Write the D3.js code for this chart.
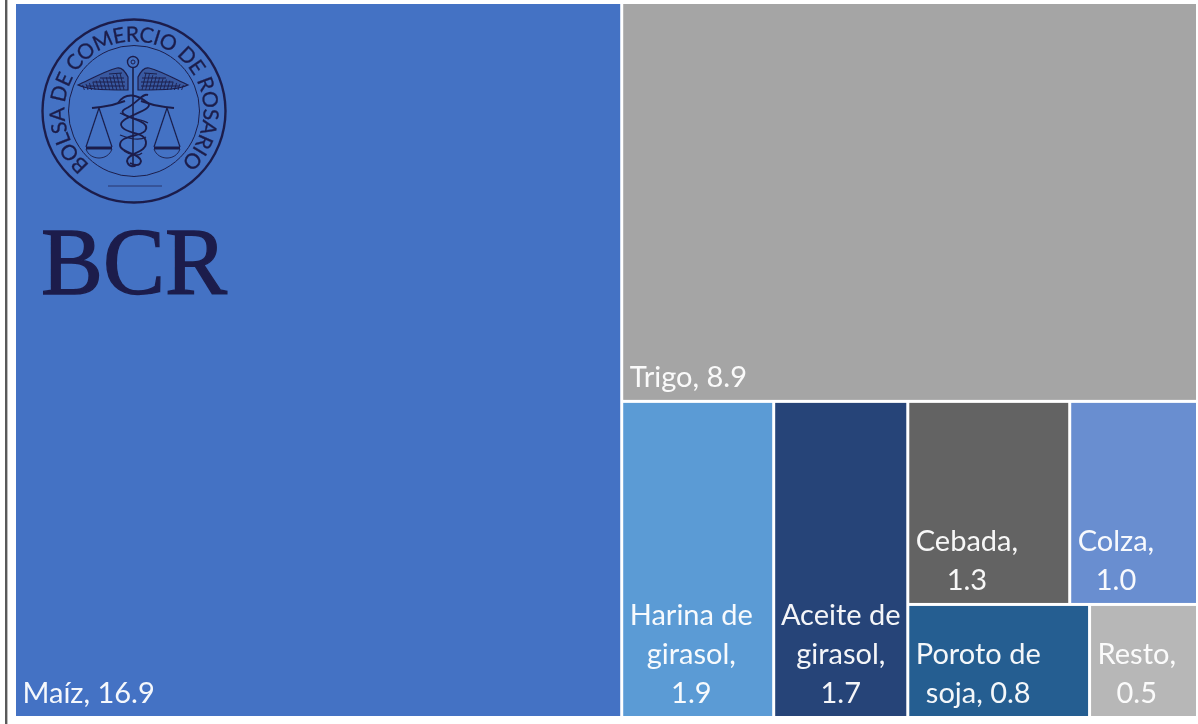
<!DOCTYPE html>
<html>
<head>
<meta charset="utf-8">
<script src="https://cdn.jsdelivr.net/npm/d3@7"></script>
<style>
  html, body { margin: 0; padding: 0; background: #fff; }
  svg { display: block; }
  text { font-family: Lato, "Open Sans", sans-serif; }
</style>
</head>
<body>
<div id="canvas"></div>
<script>
const categories = ["Maíz", "Trigo", "Harina de girasol", "Aceite de girasol", "Cebada", "Colza", "Poroto de soja", "Resto"];
// values, they round to the printed labels
const values = [16.9, 8.94, 1.87, 1.65, 1.28, 1.01, 0.8, 0.475];
const colors = ["#4472c4", "#a5a5a5", "#5b9bd5", "#264478", "#636363", "#698ed0", "#255e91", "#b7b7b7"];
const labelLines = [
  ["Maíz, 16.9"],
  ["Trigo, 8.9"],
  ["Harina de", "girasol,", "1.9"],
  ["Aceite de", "girasol,", "1.7"],
  ["Cebada,", "1.3"],
  ["Colza,", "1.0"],
  ["Poroto de", "soja, 0.8"],
  ["Resto,", "0.5"]
];
const logoName = "BOLSA DE COMERCIO DE ROSARIO";
const logoShort = "BCR";

const width = 1198;
const height = 724;
const margin = { top: 4, left: 16, bottom: 8, right: 2 };
const iwidth = width - margin.left - margin.right;
const iheight = height - margin.top - margin.bottom;
const navy = "#1c1f4c";

const leaf = i => ({ name: categories[i], value: values[i], color: colors[i], lines: labelLines[i] });

// same nesting the spreadsheet treemap ends up with
const tree = {
  children: [
    leaf(0),
    { children: [
      leaf(1),
      { children: [
        leaf(2),
        leaf(3),
        { children: [
          { children: [leaf(4), leaf(5)] },
          { children: [leaf(6), leaf(7)] }
        ] }
      ] }
    ] }
  ]
};

const root = d3.hierarchy(tree).sum(d => d.value || 0);

d3.treemap()
  .size([iwidth, iheight])
  .paddingInner(3)
  .tile((node, x0, y0, x1, y1) => {
    if (node.depth % 2 === 0) d3.treemapDice(node, x0, y0, x1, y1);
    else d3.treemapSlice(node, x0, y0, x1, y1);
  })(root);

const svg = d3.select("#canvas").append("svg")
  .attr("width", width)
  .attr("height", height);

// the reference is a soft screenshot
const defs = svg.append("defs");
defs.append("filter").attr("id", "soft")
  .attr("x", "-5%").attr("y", "-5%").attr("width", "110%").attr("height", "110%")
  .append("feGaussianBlur").attr("stdDeviation", 0.55);

// picture frame on the left
svg.append("rect")
  .attr("x", 5).attr("y", 0)
  .attr("width", 2.4).attr("height", height)
  .attr("fill", "#5a5a5a");

const g = svg.append("g").attr("transform", `translate(${margin.left},${margin.top})`);

const cell = g.selectAll("g.cell")
  .data(root.leaves())
  .enter().append("g")
  .attr("class", "cell");

cell.append("rect")
  .attr("x", d => d.x0)
  .attr("y", d => d.y0)
  .attr("width", d => d.x1 - d.x0)
  .attr("height", d => d.y1 - d.y0)
  .attr("fill", d => d.data.color);

const fontSize = 29;
const lineHeight = 39;

cell.each(function (d) {
  const lines = d.data.lines;
  const text = d3.select(this).append("text")
    .attr("fill", "#fff")
    .attr("fill-opacity", 0.95)
    .attr("font-size", fontSize)
    .attr("text-anchor", "middle")
    .attr("filter", "url(#soft)");
  const spans = text.selectAll("tspan").data(lines).enter().append("tspan").text(l => l);
  // lines are centred on the widest one, the block sits in the bottom left corner
  const widest = d3.max(spans.nodes(), n => n.getComputedTextLength());
  const left = d.x0 + Math.min(6.5, Math.max(4, (d.x1 - d.x0 - widest) / 2));
  spans.attr("x", left + widest / 2)
    .attr("y", (l, i) => d.y1 - 13 - (lines.length - 1 - i) * lineHeight);
});

// logo, top left of the maize cell
const logo = svg.append("g")
  .attr("transform", "translate(134,111)")
  .attr("fill", "none")
  .attr("stroke", navy)
  .attr("filter", "url(#soft)");

logo.append("circle").attr("r", 91.5).attr("stroke-width", 2.4);
logo.append("circle").attr("r", 65.5).attr("stroke-width", 1);

const ringR = 69.5;
const startA = Math.PI * 0.72;
const spanA = Math.PI * 1.54;
const arc = d3.path();
arc.arc(0, 0, ringR, startA, startA + spanA, false);
logo.append("path").attr("id", "ring").attr("d", arc.toString()).attr("stroke", "none");

logo.append("text")
  .attr("fill", navy)
  .attr("stroke", navy)
  .attr("stroke-width", 0.3)
  .attr("font-size", 21)
  .append("textPath")
  .attr("href", "#ring")
  .attr("textLength", ringR * spanA)
  .text(logoName);

logo.append("line").attr("x1", -26).attr("x2", 28).attr("y1", 75).attr("y2", 75).attr("stroke-width", 1).attr("stroke-opacity", 0.7);

// staff and knob
logo.append("line").attr("x1", -1).attr("x2", -1).attr("y1", -43).attr("y2", 56).attr("stroke-width", 1.6);
logo.append("circle").attr("cx", -1).attr("cy", -49).attr("r", 5.5).attr("stroke-width", 1.4);
logo.append("circle").attr("cx", -1).attr("cy", -49).attr("r", 2).attr("stroke-width", 1);

// one half of wing and scale, drawn twice
[1, -1].forEach(side => {
  const half = logo.append("g").attr("transform", `translate(-1,0) scale(${side},1)`);
  half.append("path").attr("stroke-width", 1.2)
    .attr("fill", navy).attr("fill-opacity", 0.3)
    .attr("d", "M5,-34 C8,-40 11,-44 16,-43 C28,-40 42,-32 55,-26 C46,-22 36,-21 5,-21 Z");
  [[8, -25, 46, -25], [8, -29, 40, -29], [9, -33, 33, -33], [11, -38, 24, -37]].forEach(f => {
    half.append("line").attr("x1", f[0]).attr("y1", f[1]).attr("x2", f[2]).attr("y2", f[3]).attr("stroke-width", 1);
  });
  for (let i = 0; i < 12; i++) {
    half.append("line")
      .attr("x1", 9 + i * 3.6).attr("y1", -21)
      .attr("x2", 13 + i * 3.4).attr("y2", -38 + i * 1.1)
      .attr("stroke-width", 0.9);
  }
  half.append("path").attr("stroke-width", 2)
    .attr("d", "M8,-10 C16,-7 24,-5 32,-4 L41,-3");
  half.append("path").attr("stroke-width", 1.2)
    .attr("d", "M34,-3 L21,36 M34,-3 L47,36");
  half.append("path").attr("stroke-width", 3).attr("d", "M21,37 L47,37");
  half.append("path").attr("stroke-width", 0.9).attr("d", "M21,38 C25,50 43,50 47,38");
});

// snakes
logo.append("path").attr("stroke-width", 1.9)
  .attr("d", "M-16,-8 C-8,-20 4,-16 14,-8 C22,0 -20,6 -12,16 C-6,24 12,20 12,32 C12,42 -7,42 -7,50 C-6,56 0,56 2,54");
logo.append("path").attr("stroke-width", 1.9)
  .attr("d", "M14,-16 C8,-18 4,-8 -9,-2 C-22,6 20,8 11,20 C6,26 -14,24 -14,34 C-14,42 6,42 7,50 C6,56 0,54 -4,52");
logo.append("path").attr("stroke-width", 1.2)
  .attr("d", "M-14,2 C-4,8 8,8 14,12 M-14,24 C-4,28 6,30 12,26 M-10,40 C-4,44 4,46 8,42");

svg.append("text")
  .attr("x", 41)
  .attr("y", 294)
  .attr("font-size", 95)
  .attr("textLength", 186)
  .attr("lengthAdjust", "spacingAndGlyphs")
  .attr("stroke", navy)
  .attr("stroke-width", 1.4)
  .attr("filter", "url(#soft)")
  .style("font-family", "'Liberation Serif', serif")
  .attr("fill", navy)
  .text(logoShort);
</script>
</body>
</html>
